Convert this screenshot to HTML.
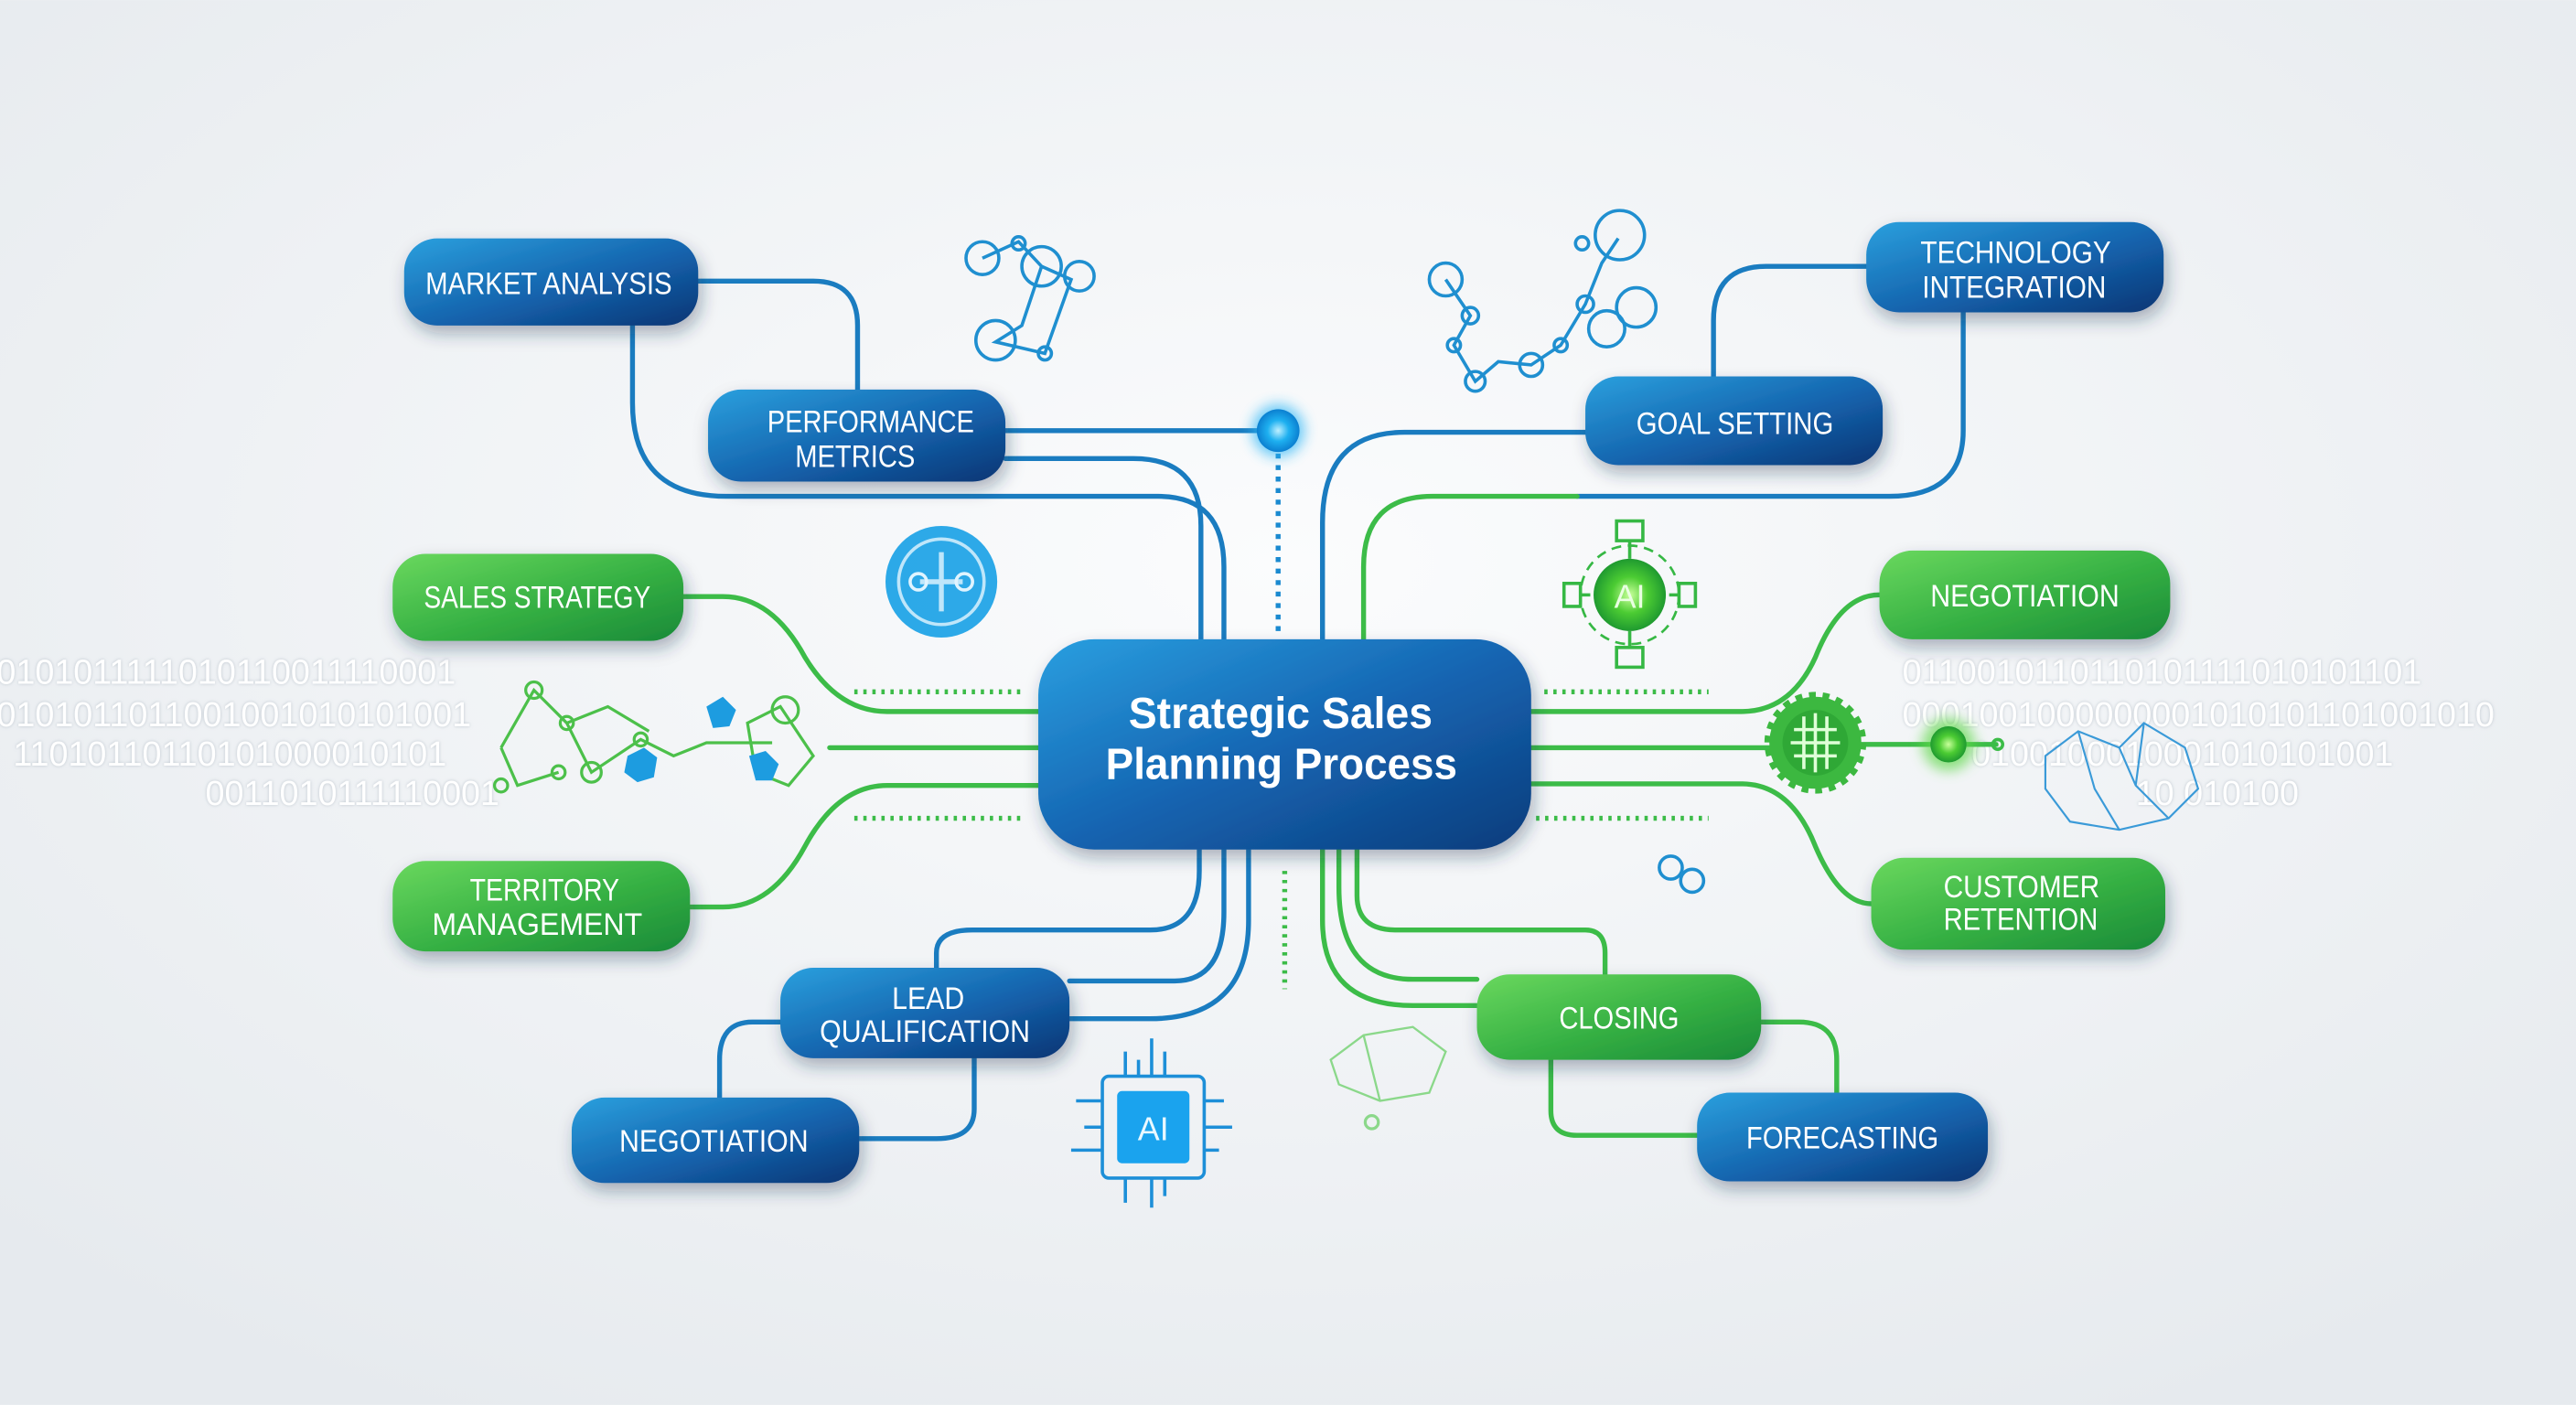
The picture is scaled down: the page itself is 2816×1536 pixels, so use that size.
<!DOCTYPE html>
<html><head><meta charset="utf-8"><style>
html,body{margin:0;padding:0;width:2816px;height:1536px;overflow:hidden;background:#eef1f4}
svg{display:block}
</style></head><body>
<svg width="2816" height="1536" viewBox="0 0 1568 855" xmlns="http://www.w3.org/2000/svg" font-family="'Liberation Sans', 'DejaVu Sans', sans-serif">
<defs>
<radialGradient id="bg" cx="50%" cy="40%" r="70%"><stop offset="0" stop-color="#fbfcfd"/><stop offset="1" stop-color="#e6eaee"/></radialGradient>
<linearGradient id="gb" x1="0" y1="0" x2="1" y2="1"><stop offset="0" stop-color="#2ba0de"/><stop offset="0.55" stop-color="#1463ad"/><stop offset="1" stop-color="#0b3574"/></linearGradient>
<linearGradient id="gg" x1="0" y1="0" x2="1" y2="1"><stop offset="0" stop-color="#6ad85e"/><stop offset="0.55" stop-color="#35b043"/><stop offset="1" stop-color="#1a8a38"/></linearGradient>
<linearGradient id="gc" x1="0" y1="0" x2="1" y2="1"><stop offset="0" stop-color="#2a9fe0"/><stop offset="0.5" stop-color="#1565b2"/><stop offset="1" stop-color="#0c3c7c"/></linearGradient>
<filter id="sh" x="-20%" y="-30%" width="140%" height="170%"><feDropShadow dx="2" dy="5" stdDeviation="5" flood-color="#1a3050" flood-opacity="0.35"/></filter>
<filter id="gl" x="-100%" y="-100%" width="300%" height="300%"><feGaussianBlur stdDeviation="4"/></filter>
<filter id="ts"><feDropShadow dx="0" dy="0" stdDeviation="1" flood-color="#9aa6b2" flood-opacity="0.6"/></filter>
<radialGradient id="dotb"><stop offset="0" stop-color="#bff0ff"/><stop offset="0.5" stop-color="#1eb0f0"/><stop offset="1" stop-color="#0b7fd0"/></radialGradient>
<radialGradient id="dotg"><stop offset="0" stop-color="#c8ff9a"/><stop offset="0.5" stop-color="#4ccc33"/><stop offset="1" stop-color="#1f9a30"/></radialGradient>
</defs>
<rect width="1568" height="855" fill="url(#bg)"/>

<g font-size="21" fill="#ffffff" filter="url(#ts)">
<text x="-2" y="416">0101011111010110011110001</text>
<text x="-2" y="442">0101011011001001010101001</text>
<text x="8" y="466">11010110110101000010101</text>
<text x="125" y="490">0011010111110001</text>
<text x="1158" y="416">0110010110110101111010101101</text>
<text x="1158" y="442">0001001000000001010101101001010</text>
<text x="1200" y="466">0100100010001010101001</text>
<text x="1300" y="490">10 010100</text>
</g>

<g fill="none" stroke="#1a7cc0" stroke-width="3" stroke-linecap="round">
<path d="M425 171 H495 Q522 171 522 198 V237"/>
<path d="M385 198 V245 Q385 302 442 302 H705 Q745 302 745 345 V389"/>
<path d="M612 262 H770"/>
<path d="M612 279 H690 Q731 279 731 320 V389"/>
<path d="M965 263 H855 Q805 263 805 318 V389"/>
<path d="M1136 162 H1075 Q1043 162 1043 195 V229"/>
<path d="M1195 190 V262 Q1195 302 1150 302 H960"/>
<path d="M570 590 V580 Q570 566 592 566 H700 Q730 566 730 530 V517"/>
<path d="M651 597 H715 Q745 597 745 555 V517"/>
<path d="M651 620 H700 Q760 620 760 560 V517"/>
<path d="M593 644 V675 Q593 693 570 693 H523"/>
<path d="M475 622 H458 Q438 622 438 645 V668"/>
</g>
<path d="M778 276 V385" stroke="#1a8ad0" stroke-width="3" stroke-dasharray="3 4" fill="none"/>

<g fill="none" stroke="#3cbc48" stroke-width="3" stroke-linecap="round">
<path d="M960 302 H872 Q830 302 830 345 V389"/>
<path d="M416 363 H440 Q470 363 490 400 Q510 433 540 433 H632"/>
<path d="M505 455 H632"/>
<path d="M420 552 H440 Q470 552 490 515 Q510 478 540 478 H632"/>
<path d="M932 433 H1060 Q1090 433 1105 400 Q1120 362 1144 362"/>
<path d="M932 455 H1078"/>
<path d="M1132 453 H1175 M1195 453 H1215"/>
<path d="M932 477 H1060 Q1090 477 1105 515 Q1120 550 1139 550"/>
<path d="M805 517 V560 Q805 612 860 612 H899"/>
<path d="M815 517 V540 Q815 596 860 596 H899"/>
<path d="M826 517 V545 Q826 566 850 566 H965 Q977 566 977 580 V593"/>
<path d="M1072 622 H1095 Q1118 622 1118 645 V665"/>
<path d="M944 645 V676 Q944 691 960 691 H1033"/>
</g>
<g stroke="#3cbc48" stroke-width="3" stroke-dasharray="2 3.5" fill="none">
<path d="M520 421 H622"/><path d="M520 498 H622"/>
<path d="M940 421 H1040"/><path d="M935 498 H1040"/>
<path d="M782 530 V602"/>
</g>

<circle cx="778" cy="262" r="16" fill="#29b6f6" filter="url(#gl)" opacity="0.7"/>
<circle cx="778" cy="262" r="13" fill="url(#dotb)"/>

<g fill="none" stroke="#1f8fd0" stroke-width="2">
<path d="M598 157 L620 147 L634 162 L622 198 L606 208 L636 215 L652 170 L634 162"/>
<circle cx="598" cy="157" r="10"/><circle cx="634" cy="162" r="12"/><circle cx="606" cy="207" r="12"/><circle cx="657" cy="168" r="9"/><circle cx="620" cy="148" r="4"/><circle cx="636" cy="215" r="4"/>
<path d="M880 170 L895 192 L885 210 L898 232 L912 220 L932 222 L950 210 L965 185 L975 160 L985 145"/>
<circle cx="880" cy="170" r="10"/><circle cx="895" cy="192" r="5"/><circle cx="885" cy="210" r="4"/><circle cx="898" cy="232" r="6"/><circle cx="932" cy="222" r="7"/><circle cx="950" cy="210" r="4"/><circle cx="965" cy="185" r="5"/><circle cx="978" cy="200" r="11"/><circle cx="996" cy="187" r="12"/><circle cx="986" cy="143" r="15"/><circle cx="963" cy="148" r="4"/>
<circle cx="1017" cy="528" r="7"/><circle cx="1030" cy="536" r="7"/>
<path d="M1245 460 L1265 445 L1290 455 L1305 440 L1330 455 L1338 480 L1320 498 L1290 505 L1260 500 L1245 480 Z M1265 445 L1275 480 L1290 505 M1290 455 L1300 478 L1320 498 M1305 440 L1300 478" stroke-width="1.2" stroke="#3a9ad8"/>
</g>
<g fill="none" stroke="#4cc04a" stroke-width="1.8">
<path d="M305 455 L325 420 L345 440 L360 470 L390 450 L410 460 L430 452 L470 452 M325 420 L345 440 L370 430 L395 445 M305 455 L315 478 L340 470"/>
<circle cx="325" cy="420" r="5"/><circle cx="345" cy="440" r="4"/><circle cx="360" cy="470" r="6"/><circle cx="305" cy="478" r="4"/><circle cx="340" cy="470" r="4"/><circle cx="390" cy="450" r="4"/>
<path d="M455 440 L475 430 L495 460 L480 478 L460 470 Z"/>
<circle cx="478" cy="432" r="8"/>
<path d="M810 645 L830 630 L860 625 L880 640 L870 665 L840 670 L815 660 Z M830 630 L840 670" stroke="#8bd88a" stroke-width="1.3"/>
<circle cx="835" cy="683" r="4" stroke="#8bd88a"/>
</g>
<g fill="#1d9ce0">
<path d="M430 430 l10 -6 l8 8 l-4 10 l-10 1 z"/>
<path d="M382 460 l10 -5 l8 6 l-2 12 l-10 3 l-8 -6 z"/>
<path d="M456 460 l10 -3 l8 8 l-4 10 l-10 0 z"/>
</g>

<circle cx="573" cy="354" r="34" fill="#16a0e6" opacity="0.9"/>
<circle cx="573" cy="354" r="26" fill="none" stroke="#bfe6fa" stroke-width="2"/>
<path d="M560 354 H586 M573 336 V372" stroke="#bfe6fa" stroke-width="3"/>
<circle cx="559" cy="354" r="5" fill="none" stroke="#e0f4ff" stroke-width="2"/>
<circle cx="587" cy="354" r="5" fill="none" stroke="#e0f4ff" stroke-width="2"/>

<g stroke="#36b844" stroke-width="2" fill="none">
<rect x="984" y="317" width="16" height="12"/><rect x="984" y="394" width="16" height="12"/>
<rect x="952" y="355" width="10" height="14"/><rect x="1022" y="355" width="10" height="14"/>
<path d="M992 329 V340 M992 384 V394 M962 362 H968 M1016 362 H1022"/>
<circle cx="992" cy="362" r="30" stroke-dasharray="6 4" stroke-width="1.5"/>
</g>
<circle cx="992" cy="362" r="22" fill="url(#dotg)"/>
<text x="992" y="370" font-size="20" fill="#e8ffe0" text-anchor="middle">AI</text>

<circle cx="1105" cy="452" r="28" fill="#3cb840" stroke="#3cb840" stroke-width="6" stroke-dasharray="4 4"/>
<circle cx="1105" cy="452" r="20" fill="#2fa836"/>
<g stroke="#dfffd8" stroke-width="2"><path d="M1092 444 H1118 M1090 452 H1120 M1092 460 H1118 M1098 436 V468 M1105 434 V470 M1112 436 V468"/></g>
<circle cx="1186" cy="453" r="16" fill="#5fd84a" filter="url(#gl)" opacity="0.7"/>
<circle cx="1186" cy="453" r="11" fill="url(#dotg)"/>
<circle cx="1216" cy="453" r="3" fill="none" stroke="#3cbc48" stroke-width="2"/>

<g stroke="#1d8fd8" stroke-width="2" fill="none">
<rect x="671" y="655" width="62" height="62" rx="4"/>
<path d="M685 655 V640 M693 655 V645 M701 655 V632 M709 655 V640 M685 717 V732 M701 717 V735 M709 717 V728 M671 670 H655 M671 686 H660 M671 700 H652 M733 670 H745 M733 686 H750 M733 700 H742"/>
</g>
<rect x="680" y="664" width="44" height="44" rx="3" fill="#1aa3ee"/>
<text x="702" y="694" font-size="20" fill="#e8f8ff" text-anchor="middle">AI</text>

<g filter="url(#sh)">
<rect x="246" y="145" width="179" height="53" rx="20" fill="url(#gb)"/>
<rect x="431" y="237" width="181" height="56" rx="20" fill="url(#gb)"/>
<rect x="239" y="337" width="177" height="53" rx="20" fill="url(#gg)"/>
<rect x="239" y="524" width="181" height="55" rx="20" fill="url(#gg)"/>
<rect x="475" y="589" width="176" height="55" rx="20" fill="url(#gb)"/>
<rect x="348" y="668" width="175" height="52" rx="20" fill="url(#gb)"/>
<rect x="632" y="389" width="300" height="128" rx="34" fill="url(#gc)"/>
<rect x="1136" y="135" width="181" height="55" rx="20" fill="url(#gb)"/>
<rect x="965" y="229" width="181" height="54" rx="20" fill="url(#gb)"/>
<rect x="1144" y="335" width="177" height="54" rx="20" fill="url(#gg)"/>
<rect x="1139" y="522" width="179" height="56" rx="20" fill="url(#gg)"/>
<rect x="899" y="593" width="173" height="52" rx="20" fill="url(#gg)"/>
<rect x="1033" y="665" width="177" height="54" rx="20" fill="url(#gb)"/>
</g>

<g fill="#ffffff" font-size="19" lengthAdjust="spacingAndGlyphs">
<text x="259" y="179" textLength="150" lengthAdjust="spacingAndGlyphs">MARKET ANALYSIS</text>
<text x="467" y="263" textLength="126" lengthAdjust="spacingAndGlyphs">PERFORMANCE</text>
<text x="484" y="284" textLength="73" lengthAdjust="spacingAndGlyphs">METRICS</text>
<text x="258" y="370" textLength="138" lengthAdjust="spacingAndGlyphs">SALES STRATEGY</text>
<text x="286" y="548" textLength="91" lengthAdjust="spacingAndGlyphs">TERRITORY</text>
<text x="263" y="569" textLength="128" lengthAdjust="spacingAndGlyphs">MANAGEMENT</text>
<text x="543" y="614" textLength="44" lengthAdjust="spacingAndGlyphs">LEAD</text>
<text x="499" y="634" textLength="128" lengthAdjust="spacingAndGlyphs">QUALIFICATION</text>
<text x="377" y="701" textLength="115" lengthAdjust="spacingAndGlyphs">NEGOTIATION</text>
<text x="1169" y="160" textLength="116" lengthAdjust="spacingAndGlyphs">TECHNOLOGY</text>
<text x="1170" y="181" textLength="112" lengthAdjust="spacingAndGlyphs">INTEGRATION</text>
<text x="996" y="264" textLength="120" lengthAdjust="spacingAndGlyphs">GOAL SETTING</text>
<text x="1175" y="369" textLength="115" lengthAdjust="spacingAndGlyphs">NEGOTIATION</text>
<text x="1183" y="546" textLength="95" lengthAdjust="spacingAndGlyphs">CUSTOMER</text>
<text x="1183" y="566" textLength="94" lengthAdjust="spacingAndGlyphs">RETENTION</text>
<text x="949" y="626" textLength="73" lengthAdjust="spacingAndGlyphs">CLOSING</text>
<text x="1063" y="699" textLength="117" lengthAdjust="spacingAndGlyphs">FORECASTING</text>
</g>
<g fill="#ffffff" font-size="27" font-weight="bold">
<text x="687" y="443" textLength="185" lengthAdjust="spacingAndGlyphs">Strategic Sales</text>
<text x="673" y="474" textLength="214" lengthAdjust="spacingAndGlyphs">Planning Process</text>
</g>
</svg>
</body></html>
